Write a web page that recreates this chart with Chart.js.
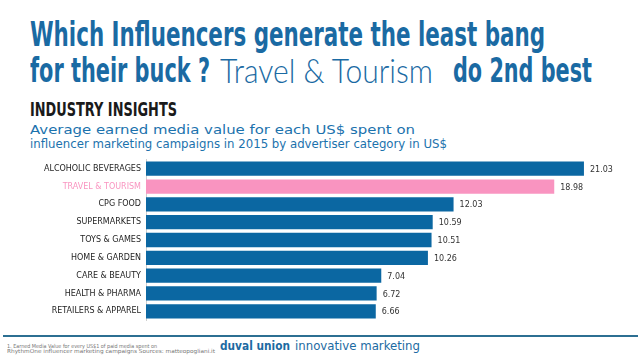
<!DOCTYPE html>
<html>
<head>
<meta charset="utf-8">
<script src="https://cdn.jsdelivr.net/npm/chart.js@4"></script>
<style>
  html, body { margin: 0; padding: 0; background: #fff; }
  #page { position: relative; width: 638px; height: 359px; overflow: hidden; background: #fff; }
  .t { position: absolute; white-space: nowrap; line-height: 1; transform-origin: left top; }
  .head { font-family: "DejaVu Sans Condensed", "DejaVu Sans"; font-weight: bold; font-size: 34px; color: #1a6aa3; }
  .thin { font-family: Lato, "DejaVu Sans"; font-weight: 300; font-size: 33px; color: #1a6aa3; }
  .sub { font-family: "DejaVu Sans"; font-size: 11.5px; color: #1b72ad; }
  .foot { font-family: "DejaVu Sans"; font-size: 5.5px; color: #777; }
  #chartBox { position: absolute; left: 0; top: 150px; width: 638px; height: 180px; }
  #rule { position: absolute; left: 3px; top: 335px; width: 635px; height: 2px; background: #2c6f92; }
</style>
</head>
<body>
<div id="page">
  <span class="t head" data-w="515" style="left:30px; top:17px;">Which Influencers generate the least bang</span>
  <span class="t head" data-w="180" style="left:30px; top:53px;">for their buck ?</span>
  <span class="t thin" data-w="213" style="left:220px; top:54px;">Travel &amp; Tourism</span>
  <span class="t head" data-w="139" style="left:453px; top:53px;">do 2nd best</span>
  <span class="t head" data-w="147" style="left:30px; top:100px; font-size:19px; color:#1a1a1a;">INDUSTRY INSIGHTS</span>
  <span class="t sub" data-w="385" style="left:30px; top:125px;">Average earned media value for each US$ spent on</span>
  <span class="t sub" data-w="417" style="left:30px; top:138.5px;">influencer marketing campaigns in 2015 by advertiser category in US$</span>
  <div id="chartBox"><canvas id="GraphBar"></canvas></div>
  <div id="rule"></div>
  <span class="t foot" data-w="150" style="left:7px; top:343.8px;">1. Earned Media Value for every US$1 of paid media spent on</span>
  <span class="t foot" data-w="208" style="left:7px; top:349.3px;">RhythmOne influencer marketing campaigns Sources: matteopogliani.it</span>
  <span class="t" data-w="70" style="left:220px; top:339.5px; font-family:'DejaVu Sans'; font-weight:bold; font-size:12.5px; color:#1c6aa2;">duval union</span>
  <span class="t" data-w="125" style="left:295px; top:339.5px; font-family:'DejaVu Sans'; font-size:12.5px; color:#1c6aa2;">innovative marketing</span>
</div>
<script>
// fit each text line to the width it takes in the picture
document.querySelectorAll('.t').forEach((el) => {
    const w = el.getBoundingClientRect().width;
    el.style.transform = 'scaleX(' + (parseFloat(el.dataset.w) / w) + ')';
});

const categories = ['ALCOHOLIC BEVERAGES', 'TRAVEL & TOURISM', 'CPG FOOD', 'SUPERMARKETS', 'TOYS & GAMES',
    'HOME & GARDEN', 'CARE & BEAUTY', 'HEALTH & PHARMA', 'RETAILERS & APPAREL'];
const values = [21.03, 18.98, 12.03, 10.59, 10.51, 10.26, 7.04, 6.72, 6.66];
const highlight = 'TRAVEL & TOURISM';

const blue = '#0b67a2';
const pink = '#f994c0';
const axisMin = -9.2; // the original bars do not start at zero

const valueLabels = {
    id: 'valueLabels',
    afterDatasetsDraw(chart) {
        const ctx = chart.ctx;
        const meta = chart.getDatasetMeta(0);
        ctx.save();
        ctx.font = '8px "DejaVu Sans"';
        ctx.fillStyle = '#333';
        ctx.textBaseline = 'middle';
        meta.data.forEach((bar, i) => {
            ctx.fillText(values[i].toFixed(2), bar.x + 6, bar.y + 1);
        });
        ctx.restore();
    }
};

new Chart(document.getElementById('GraphBar'), {
    type: 'bar',
    data: {
        labels: categories,
        datasets: [{
            data: values,
            base: axisMin,
            backgroundColor: categories.map((c) => c === highlight ? pink : blue),
            borderWidth: 0,
            barPercentage: 0.8,
            categoryPercentage: 1
        }]
    },
    options: {
        indexAxis: 'y',
        responsive: true,
        maintainAspectRatio: false,
        animation: false,
        layout: { padding: { top: 8.7, bottom: 2.6, right: 40, left: 0 } },
        plugins: { legend: { display: false }, tooltip: { enabled: false } },
        scales: {
            x: { display: false, min: axisMin, max: 22 },
            y: {
                afterFit: (scale) => { scale.width = 146; },
                grid: { display: false, drawTicks: false },
                border: { display: true, color: '#cfcfcf', width: 1 },
                ticks: {
                    padding: 5,
                    font: { family: 'DejaVu Sans', size: 8 },
                    color: (c) => categories[c.index] === highlight ? pink : '#1e1e1e'
                }
            }
        }
    },
    plugins: [valueLabels]
});
</script>
</body>
</html>
